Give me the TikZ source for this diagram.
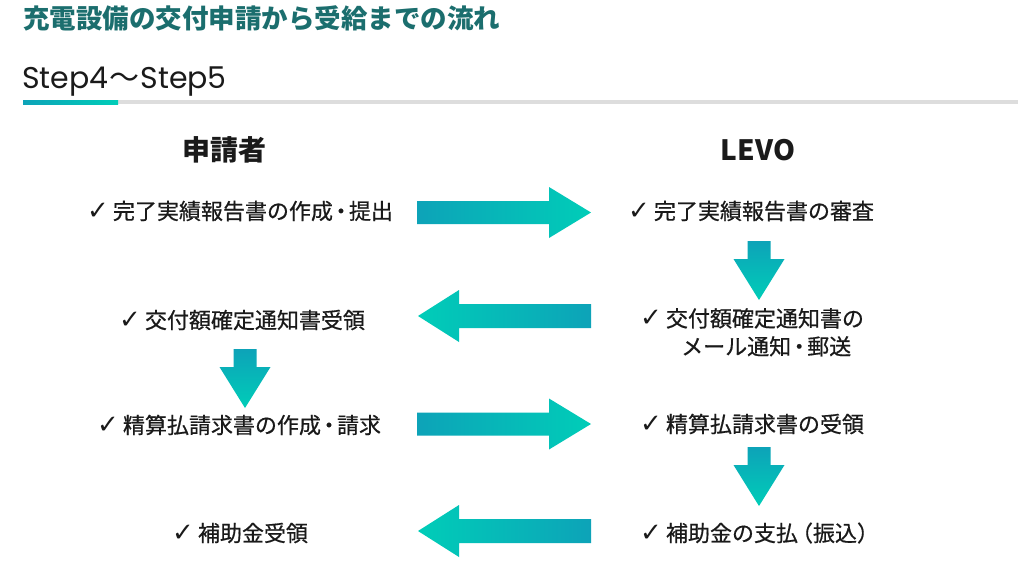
\documentclass[tikz,border=0pt]{standalone}
\usepackage{fontspec}
\setmainfont{Noto Sans CJK JP}
\newfontfamily\itemfont{Noto Sans CJK JP}[FakeBold=0.6]
\newfontfamily\dejavu{DejaVu Sans}
\newfontfamily\poppins{Poppins}
\definecolor{titleteal}{HTML}{1B6E6E}
\definecolor{tdark}{HTML}{0DA3B8}
\definecolor{tlight}{HTML}{00CDB8}
\definecolor{txt}{HTML}{1A1A1A}
\definecolor{lgray}{HTML}{DDDDDD}
\newcommand\chk{{\dejavu\fontsize{26}{26}\selectfont ✓}\hspace{4pt}}
\newcommand\mdot{\kern-3pt・\kern-3pt}
\newcommand\rarrow[1]{\shade[left color=tdark,right color=tlight] (417,#1-11.5) -- (549,#1-11.5) -- (549,#1-25.5) -- (591,#1) -- (549,#1+25.5) -- (549,#1+11.5) -- (417,#1+11.5) -- cycle;}
\newcommand\larrow[1]{\shade[left color=tlight,right color=tdark] (591,#1-12) -- (459,#1-12) -- (459,#1-26) -- (418,#1) -- (459,#1+26) -- (459,#1+12) -- (591,#1+12) -- cycle;}
\newcommand\darrow[2]{\shade[top color=tdark,bottom color=tlight] (#1-11.5,#2) -- (#1+11.5,#2) -- (#1+11.5,#2+18) -- (#1+25.5,#2+18) -- (#1,#2+59) -- (#1-25.5,#2+18) -- (#1-11.5,#2+18) -- cycle;}
\begin{document}
\begin{tikzpicture}[x=1pt,y=-1pt,
  item/.style={inner sep=0pt,anchor=west,text=txt,font=\itemfont\fontsize{22}{28}\selectfont},
  head/.style={inner sep=0pt,text=txt,font=\fontsize{28}{30}\selectfont\bfseries}]
\useasboundingbox[fill=white] (0,0) rectangle (1024,563);
% title
\node[anchor=west,inner sep=0pt,text=titleteal,font=\fontsize{26.5}{30}\selectfont\bfseries] (title) at (23,18) {充電設備の交付申請から受給までの流れ};
\node[anchor=west,inner sep=0pt,text=txt,font=\fontsize{30}{30}\selectfont] (step) at (22,82) {{\poppins Step4}\kern1pt～\kern1pt{\poppins Step5}};
\fill[lgray] (23,100) rectangle (1018,104);
\shade[left color=tdark,right color=tlight] (23,100) rectangle (118,104);
% headers
\node[head] (hA) at (224,150) {申請者};
\node[head] (hB) at (758,150) {LEVO};
% left items
\node[item] (l1) at (87,211) {\chk 完了実績報告書の作成\mdot 提出};
\node[item] (l2) at (119,320) {\chk 交付額確定通知書受領};
\node[item] (l3) at (97,425) {\chk 精算払請求書の作成\mdot 請求};
\node[item] (l4) at (172,533) {\chk 補助金受領};
% right items
\node[item] (r1) at (628,211) {\chk 完了実績報告書の審査};
\node[item,align=left,anchor=north west] (r2) at (640,308) {\chk 交付額確定通知書の\\\hspace*{41pt}メール通知\mdot 郵送};
\node[item] (r3) at (640,424) {\chk 精算払請求書の受領};
\node[item] (r4) at (640,533) {\chk 補助金の支払{\kern-7pt（}振込{）\kern-7pt}};
% arrows
\rarrow{212.5}
\larrow{316}
\rarrow{424}
\larrow{531}
\darrow{759}{241}
\darrow{759}{447}
\darrow{245}{349}
\end{tikzpicture}
\end{document}
